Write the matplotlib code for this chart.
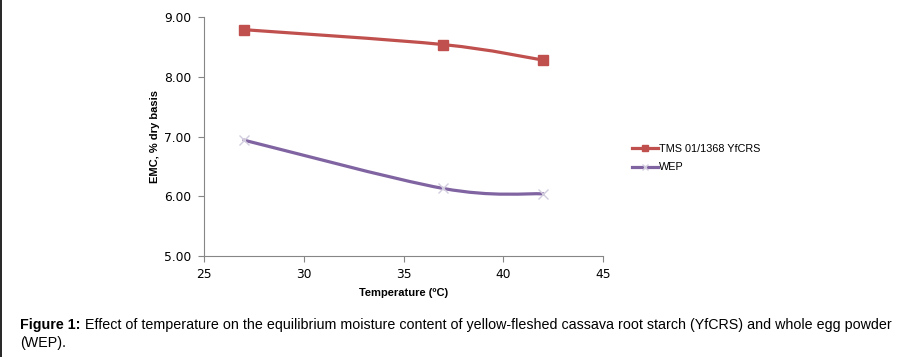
import numpy as np
import matplotlib
matplotlib.use("Agg")
import matplotlib.pyplot as plt
from matplotlib.path import Path
from matplotlib.patches import PathPatch
from matplotlib.lines import Line2D

temperature = [27, 37, 42]
yfcrs = [8.79, 8.54, 8.28]
wep = [6.94, 6.13, 6.04]

series_names = ["TMS 01/1368 YfCRS", "WEP"]
x_ticks = [25, 30, 35, 40, 45]
y_ticks = [5.0, 6.0, 7.0, 8.0, 9.0]

RED = "#C0504D"
PURPLE = "#8064A2"
AXIS_GREY = "#868686"


def smooth_path(xs, ys):
    # spreadsheet-style smoothed line: bezier segments through every point
    pts = np.column_stack([xs, ys]).astype(float)
    n = len(pts)
    verts = [pts[0]]
    codes = [Path.MOVETO]
    for i in range(n - 1):
        p0 = pts[max(i - 1, 0)]
        p1 = pts[i]
        p2 = pts[i + 1]
        p3 = pts[min(i + 2, n - 1)]
        c1 = p1 + (p2 - p0) / 6.0
        c2 = p2 - (p3 - p1) / 6.0
        verts += [c1, c2, p2]
        codes += [Path.CURVE4] * 3
    return Path(verts, codes)


fig = plt.figure(figsize=(9.08, 3.57), dpi=100)
ax = fig.add_axes([0.2247, 0.283, 0.4395, 0.669])

for ys, col, mk, msz, mcol in [(yfcrs, RED, "s", 6.5, RED),
                               (wep, PURPLE, "x", 7.5, "#D2CCDE")]:
    ax.add_patch(PathPatch(smooth_path(temperature, ys), fill=False,
                           edgecolor=col, lw=2.3, capstyle="round", zorder=2))
    ax.plot(temperature, ys, ls="none", marker=mk, ms=msz, color=mcol,
            mec=mcol, mew=1.0, zorder=3)

ax.set_xlim(25, 45)
ax.set_ylim(5, 9)
ax.set_xticks(x_ticks)
ax.set_yticks(y_ticks)
ax.set_yticklabels(["%.2f" % v for v in y_ticks])
for s in ["top", "right"]:
    ax.spines[s].set_visible(False)
for s in ["left", "bottom"]:
    ax.spines[s].set_color(AXIS_GREY)
    ax.spines[s].set_linewidth(0.8)
ax.tick_params(direction="out", length=4, width=0.8, color=AXIS_GREY,
               labelsize=8.8)
ax.tick_params(axis="x", pad=5)
ax.tick_params(axis="y", pad=5)
for lab in ax.get_xticklabels() + ax.get_yticklabels():
    lab.set_family("DejaVu Sans")

ax.set_xlabel("Temperature (ºC)", fontsize=8, fontweight="bold",
              family="Liberation Sans", labelpad=5)
ax.set_ylabel("EMC, % dry basis", fontsize=8, fontweight="bold",
              family="Liberation Sans", labelpad=3)

handles = [Line2D([], [], color=RED, lw=2.3, marker="s", ms=4),
           Line2D([], [], color=PURPLE, lw=2.3, marker="x", ms=4, mec="#D2CCDE")]
fig.legend(handles, series_names, loc="upper left",
           bbox_to_anchor=(0.685, 0.625), frameon=False, handlelength=2.4,
           handletextpad=0.1, labelspacing=0.8,
           prop={"family": "Liberation Sans", "size": 7.8})

fig.add_artist(Line2D([0.0008, 0.0008], [0, 1], color="black", lw=1.2,
                      transform=fig.transFigure))

fig.text(0.022, 0.078, "Figure 1:", fontsize=10.3, fontweight="bold",
         family="Liberation Sans", va="baseline", ha="left")
fig.text(0.0935, 0.078,
         "Effect of temperature on the equilibrium moisture content of "
         "yellow-fleshed cassava root starch (YfCRS) and whole egg powder",
         fontsize=10.3, family="Liberation Sans",
         va="baseline", ha="left")
fig.text(0.022, 0.028, "(WEP).", fontsize=10.3, family="Liberation Sans",
         va="baseline", ha="left")

fig.savefig("out.png", dpi=100, facecolor="white")
